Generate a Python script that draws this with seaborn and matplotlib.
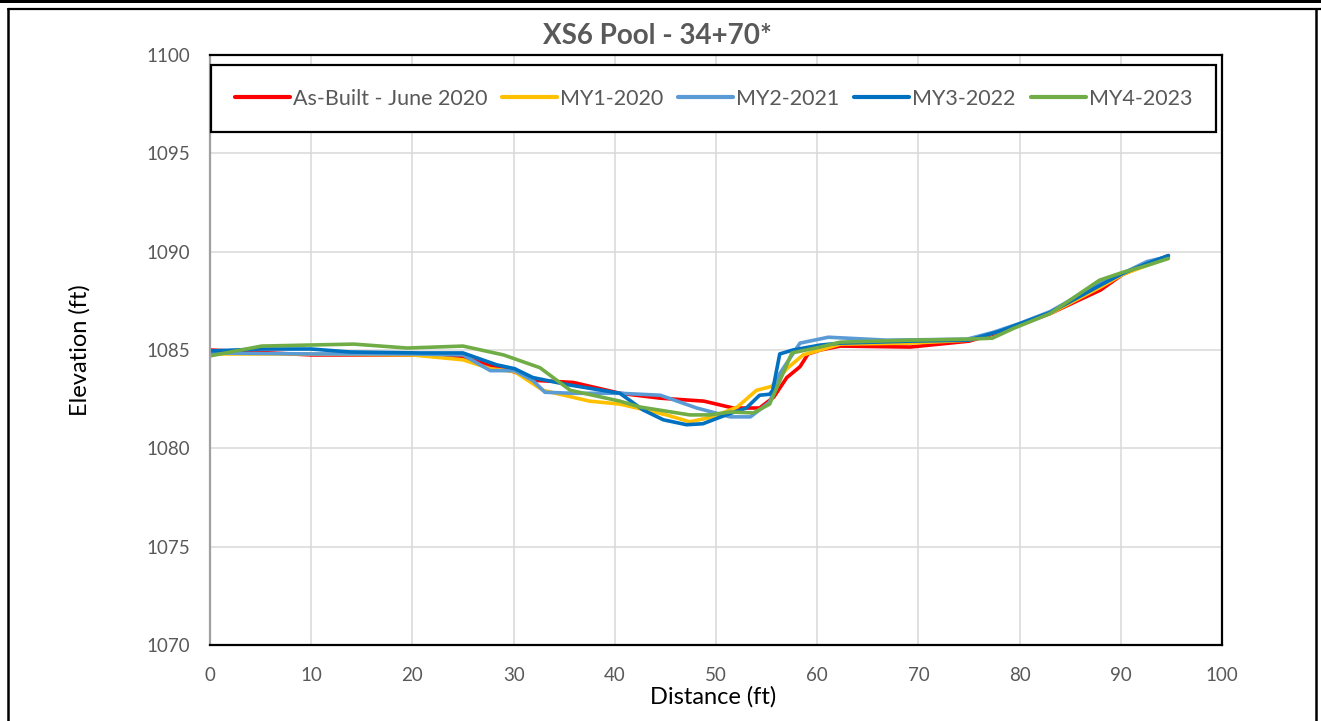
import matplotlib
matplotlib.use("Agg")
import matplotlib.pyplot as plt
from matplotlib.lines import Line2D
from matplotlib.patches import Rectangle
import seaborn as sns
import pandas as pd

# ---------------- data ----------------
asbuilt_x = [0, 10, 20, 25, 28, 30, 32.3, 35.9, 40.5, 44.5, 48.8, 51.7, 54.3, 55.7, 57.0, 58.3, 59.1, 60.3,
             62.3, 69.2, 75, 78, 83, 88, 90.2, 94.7]
asbuilt_y = [1085.0, 1084.75, 1084.75, 1084.65, 1084.15, 1083.9, 1083.45, 1083.35, 1082.8, 1082.55, 1082.4,
             1082.05, 1082.05, 1082.6, 1083.6, 1084.15, 1084.8, 1085.0, 1085.2, 1085.15, 1085.45, 1085.9,
             1086.85, 1088.05, 1088.85, 1089.8]

my1_x = [0, 10, 20, 25, 27.7, 30.1, 32.9, 37.5, 40.5, 45.1, 47.4, 49.7, 52.1, 54.0, 55.5, 57.0, 58.6, 60.3,
         62.3, 69.2, 75, 78, 83, 88, 90.2, 94.7]
my1_y = [1084.8, 1084.8, 1084.75, 1084.5, 1084.05, 1083.9, 1082.95, 1082.4, 1082.25, 1081.7, 1081.35, 1081.6,
         1082.1, 1082.95, 1083.15, 1084.05, 1084.75, 1085.0, 1085.3, 1085.35, 1085.5, 1085.95, 1086.85,
         1088.2, 1088.85, 1089.7]

my2_x = [0, 10, 20, 25, 27.7, 30.1, 31.9, 33.1, 35.9, 40.5, 44.5, 48.1, 51.4, 53.4, 55.3, 56.3, 58.3, 61.1,
         66.9, 74.8, 77.4, 80, 83, 88, 90.2, 92.6, 94.7]
my2_y = [1084.85, 1084.8, 1084.8, 1084.75, 1083.95, 1083.95, 1083.45, 1082.85, 1082.8, 1082.8, 1082.7,
         1082.05, 1081.6, 1081.6, 1082.35, 1083.8, 1085.35, 1085.65, 1085.5, 1085.55, 1085.9, 1086.35,
         1086.95, 1088.4, 1088.9, 1089.5, 1089.75]

my3_x = [0, 5, 10, 13.8, 20.7, 25, 28.3, 30.1, 31.9, 35.2, 40.5, 42.8, 44.8, 47.1, 48.7, 51.0, 53.0, 54.3,
         55.3, 55.6, 56.3, 57.6, 60.3, 62.3, 69.2, 75, 78, 83, 88, 90.2, 92.6, 94.7]
my3_y = [1084.95, 1085.05, 1085.05, 1084.9, 1084.85, 1084.85, 1084.25, 1084.05, 1083.6, 1083.25, 1082.8,
         1081.95, 1081.45, 1081.2, 1081.25, 1081.7, 1082.05, 1082.7, 1082.75, 1082.95, 1084.8, 1085.0,
         1085.25, 1085.35, 1085.45, 1085.5, 1085.95, 1086.9, 1088.3, 1088.9, 1089.4, 1089.8]

my4_x = [0, 5.1, 14.2, 19.5, 25, 29, 32.6, 35.6, 40.5, 42.5, 47.4, 49.4, 51.4, 53.7, 55.3, 57.5, 60.3, 62.3,
         69.2, 74.8, 77.3, 79.4, 83, 87.9, 90.2, 92.6, 94.7]
my4_y = [1084.7, 1085.2, 1085.3, 1085.1, 1085.2, 1084.75, 1084.1, 1082.95, 1082.4, 1082.1, 1081.7, 1081.7,
         1081.85, 1081.8, 1082.25, 1084.85, 1085.15, 1085.4, 1085.5, 1085.55, 1085.6, 1086.1, 1086.85,
         1088.55, 1088.95, 1089.3, 1089.65]

series_names = ["As-Built - June 2020", "MY1-2020", "MY2-2021", "MY3-2022", "MY4-2023"]
series_x = [asbuilt_x, my1_x, my2_x, my3_x, my4_x]
series_y = [asbuilt_y, my1_y, my2_y, my3_y, my4_y]
series_colors = ["#FF0000", "#FFC000", "#5B9BD5", "#0070C0", "#70AD47"]

x_ticks = [0, 10, 20, 30, 40, 50, 60, 70, 80, 90, 100]
y_ticks = [1070, 1075, 1080, 1085, 1090, 1095, 1100]

title = "XS6 Pool - 34+70*"
x_label = "Distance (ft)"
y_label = "Elevation (ft)"

# ---------------- style ----------------
sns.set_theme(style="whitegrid")
plt.rcParams["font.family"] = ["Lato", "DejaVu Sans"]

W, H = 1321, 721
fig = plt.figure(figsize=(W / 100, H / 100), dpi=100)
fig.patch.set_facecolor("white")
ax = fig.add_axes([210 / W, 1 - 645 / H, 1012 / W, 590 / H])
ax.set_facecolor("white")

for name, xs, ys, c in zip(series_names, series_x, series_y, series_colors):
    df = pd.DataFrame({"x": xs, "y": ys})
    sns.lineplot(data=df, x="x", y="y", ax=ax, color=c, label=name, sort=False,
                 estimator=None, linewidth=2.6, solid_joinstyle="round", solid_capstyle="round")

ax.set_xlim(0, 100)
ax.set_ylim(1070, 1100)
ax.set_xticks(x_ticks)
ax.set_yticks(y_ticks)
ax.grid(True, color="#D9D9D9", linewidth=1.1)
ax.tick_params(axis="both", length=0, labelsize=13.5, labelcolor="#595959")
ax.tick_params(axis="x", pad=16)
ax.tick_params(axis="y", pad=14)

for side in ["top", "right", "bottom"]:
    ax.spines[side].set_color("black")
    ax.spines[side].set_linewidth(1.6)
ax.spines["left"].set_color("#A0A0A0")
ax.spines["left"].set_linewidth(1.6)

ax.set_xlabel(x_label, fontsize=17, color="black")
ax.set_ylabel(y_label, fontsize=17, color="black")
ax.xaxis.set_label_coords((713 - 210) / 1012, (645 - 686) / 590)
ax.yaxis.set_label_coords((91 - 210) / 1012, 0.5)

fig.text(0.498, 1 - 36 / H, title, ha="center", va="center", fontsize=20,
         fontweight="bold", color="#595959")

leg = ax.legend(loc="lower left", bbox_to_anchor=(0.001, 0.869, 0.993, 0.112), mode="expand",
                ncol=5, fontsize=15.5, frameon=True, fancybox=False, handlelength=2.55,
                handletextpad=0.15, borderaxespad=0, borderpad=1.1)
frame = leg.get_frame()
frame.set_edgecolor("black")
frame.set_linewidth(1.6)
frame.set_facecolor("white")
frame.set_alpha(1)
for t in leg.get_texts():
    t.set_color("#595959")
for h in leg.legend_handles:
    h.set_linewidth(3)

# page border lines
fig.add_artist(Rectangle((0, 1 - 3 / H), 1, 3 / H, transform=fig.transFigure,
                         facecolor="black", edgecolor="none"))
fig.add_artist(Line2D([7.5 / W, 1], [1 - 8.5 / H, 1 - 8.5 / H], transform=fig.transFigure,
                      color="black", linewidth=1.6))
fig.add_artist(Line2D([8 / W, 8 / W], [0, 1 - 8.5 / H], transform=fig.transFigure,
                      color="black", linewidth=1.8))
fig.add_artist(Line2D([1316 / W, 1316 / W], [0, 1 - 8.5 / H], transform=fig.transFigure,
                      color="black", linewidth=1.8))

fig.savefig("out.png", dpi=100)
